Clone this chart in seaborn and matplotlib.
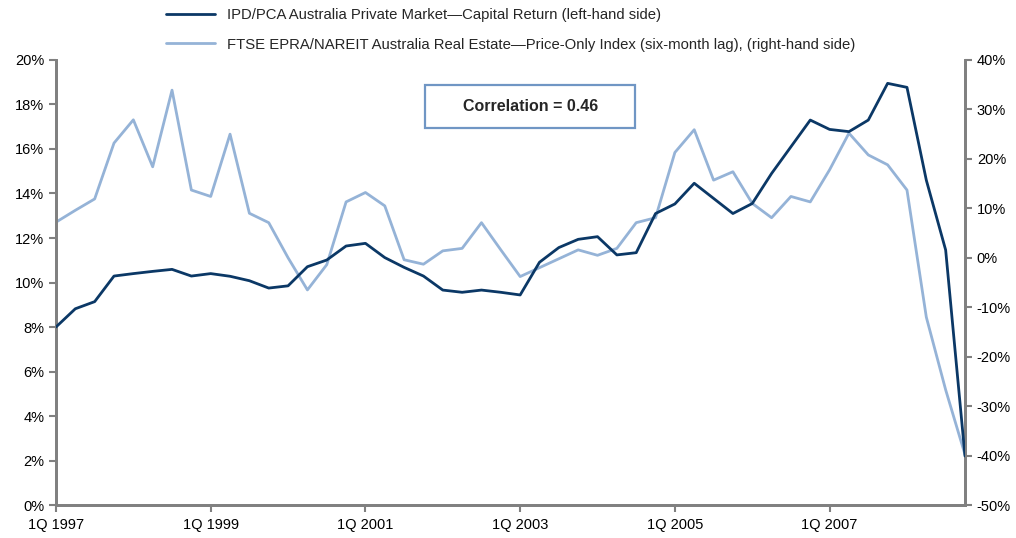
import pandas as pd
import matplotlib.pyplot as plt
import matplotlib.patches as patches
from matplotlib.ticker import FuncFormatter
import seaborn as sns

# quarterly data 1Q 1997 .. 4Q 2008
quarter_idx = list(range(48))
capital_return = [8.0, 8.82, 9.14, 10.29, 10.4, 10.5, 10.59, 10.29, 10.4, 10.28, 10.08, 9.75,
                  9.85, 10.71, 11.01, 11.64, 11.76, 11.12, 10.68, 10.29, 9.66, 9.56, 9.66, 9.56,
                  9.44, 10.91, 11.57, 11.94, 12.06, 11.24, 11.34, 13.1, 13.53, 14.46, 13.78, 13.1,
                  13.55, 14.9, 16.1, 17.3, 16.88, 16.78, 17.3, 18.95, 18.77, 14.6, 11.46, 2.2]
reit_price = [7.2, 9.6, 11.9, 23.2, 27.9, 18.4, 33.9, 13.7, 12.4, 25.0, 9.0, 7.1,
              0.0, -6.5, -1.4, 11.3, 13.2, 10.5, -0.4, -1.3, 1.4, 1.9, 7.1, 1.6,
              -3.8, -2.0, -0.2, 1.6, 0.5, 1.9, 7.1, 8.1, 21.3, 25.9, 15.7, 17.4,
              11.0, 8.1, 12.4, 11.3, 17.8, 25.2, 20.8, 18.8, 13.7, -12.0, -26.7, -39.8]
tick_pos = [0, 8, 16, 24, 32, 40]
tick_labels = ['1Q 1997', '1Q 1999', '1Q 2001', '1Q 2003', '1Q 2005', '1Q 2007']

label_left = 'IPD/PCA Australia Private Market\u2014Capital Return (left-hand side)'
label_right = 'FTSE EPRA/NAREIT Australia Real Estate\u2014Price-Only Index (six-month lag), (right-hand side)'

df = pd.DataFrame({'q': quarter_idx, 'cap': capital_return, 'reit': reit_price})

sns.set_style('ticks')
plt.rcParams['font.family'] = ['Liberation Sans', 'DejaVu Sans']
plt.rcParams['font.size'] = 10

dark = '#0b3866'
light = '#95b3d7'
grey = '#808080'

fig = plt.figure(figsize=(10.16, 5.38), dpi=100)
ax = fig.add_axes([0.0551, 0.0613, 0.8947, 0.8272])
ax2 = ax.twinx()

sns.lineplot(data=df, x='q', y='cap', ax=ax, color=dark, linewidth=2, label=label_left, zorder=3)
sns.lineplot(data=df, x='q', y='reit', ax=ax2, color=light, linewidth=2, label=label_right)
ax.set_zorder(ax2.get_zorder() + 1)
ax.patch.set_visible(False)

ax.set_xlim(0, 47)
ax.set_ylim(0, 20)
ax2.set_ylim(-50, 40)
ax.set_yticks(range(0, 21, 2))
ax2.set_yticks(range(-50, 41, 10))
ax.set_xticks(tick_pos)
ax.set_xticklabels(tick_labels)
ax.yaxis.set_major_formatter(FuncFormatter(lambda v, p: f'{v:.0f}%'))
ax2.yaxis.set_major_formatter(FuncFormatter(lambda v, p: f'{v:.0f}%'))
ax.set_xlabel('')
ax.set_ylabel('')
ax2.set_ylabel('')

for a in (ax, ax2):
    a.spines['top'].set_visible(False)
    for s in ('left', 'right', 'bottom'):
        a.spines[s].set_color(grey)
        a.spines[s].set_linewidth(2)
    a.tick_params(colors=grey, width=1.5, length=5, labelcolor='black', labelsize=10.5)
ax.tick_params(axis='x', pad=4)

handles = ax.get_lines()[:1] + ax2.get_lines()[:1]
ax.get_legend().remove()
ax2.get_legend().remove()
fig.legend(handles, [label_left, label_right], loc='upper left', bbox_to_anchor=(0.150, 1.010),
           frameon=False, handlelength=3.3, labelspacing=1.05, fontsize=10.7)

# correlation box
box = patches.Rectangle((0.4183, 0.762), 0.2067, 0.0799, transform=fig.transFigure,
                        facecolor='white', edgecolor='#7096c4', linewidth=1.6, zorder=5)
fig.patches.append(box)
fig.text(0.522, 0.802, 'Correlation = 0.46', ha='center', va='center', fontweight='bold',
         fontsize=11.5, zorder=6)

fig.savefig('out.png', dpi=100)
